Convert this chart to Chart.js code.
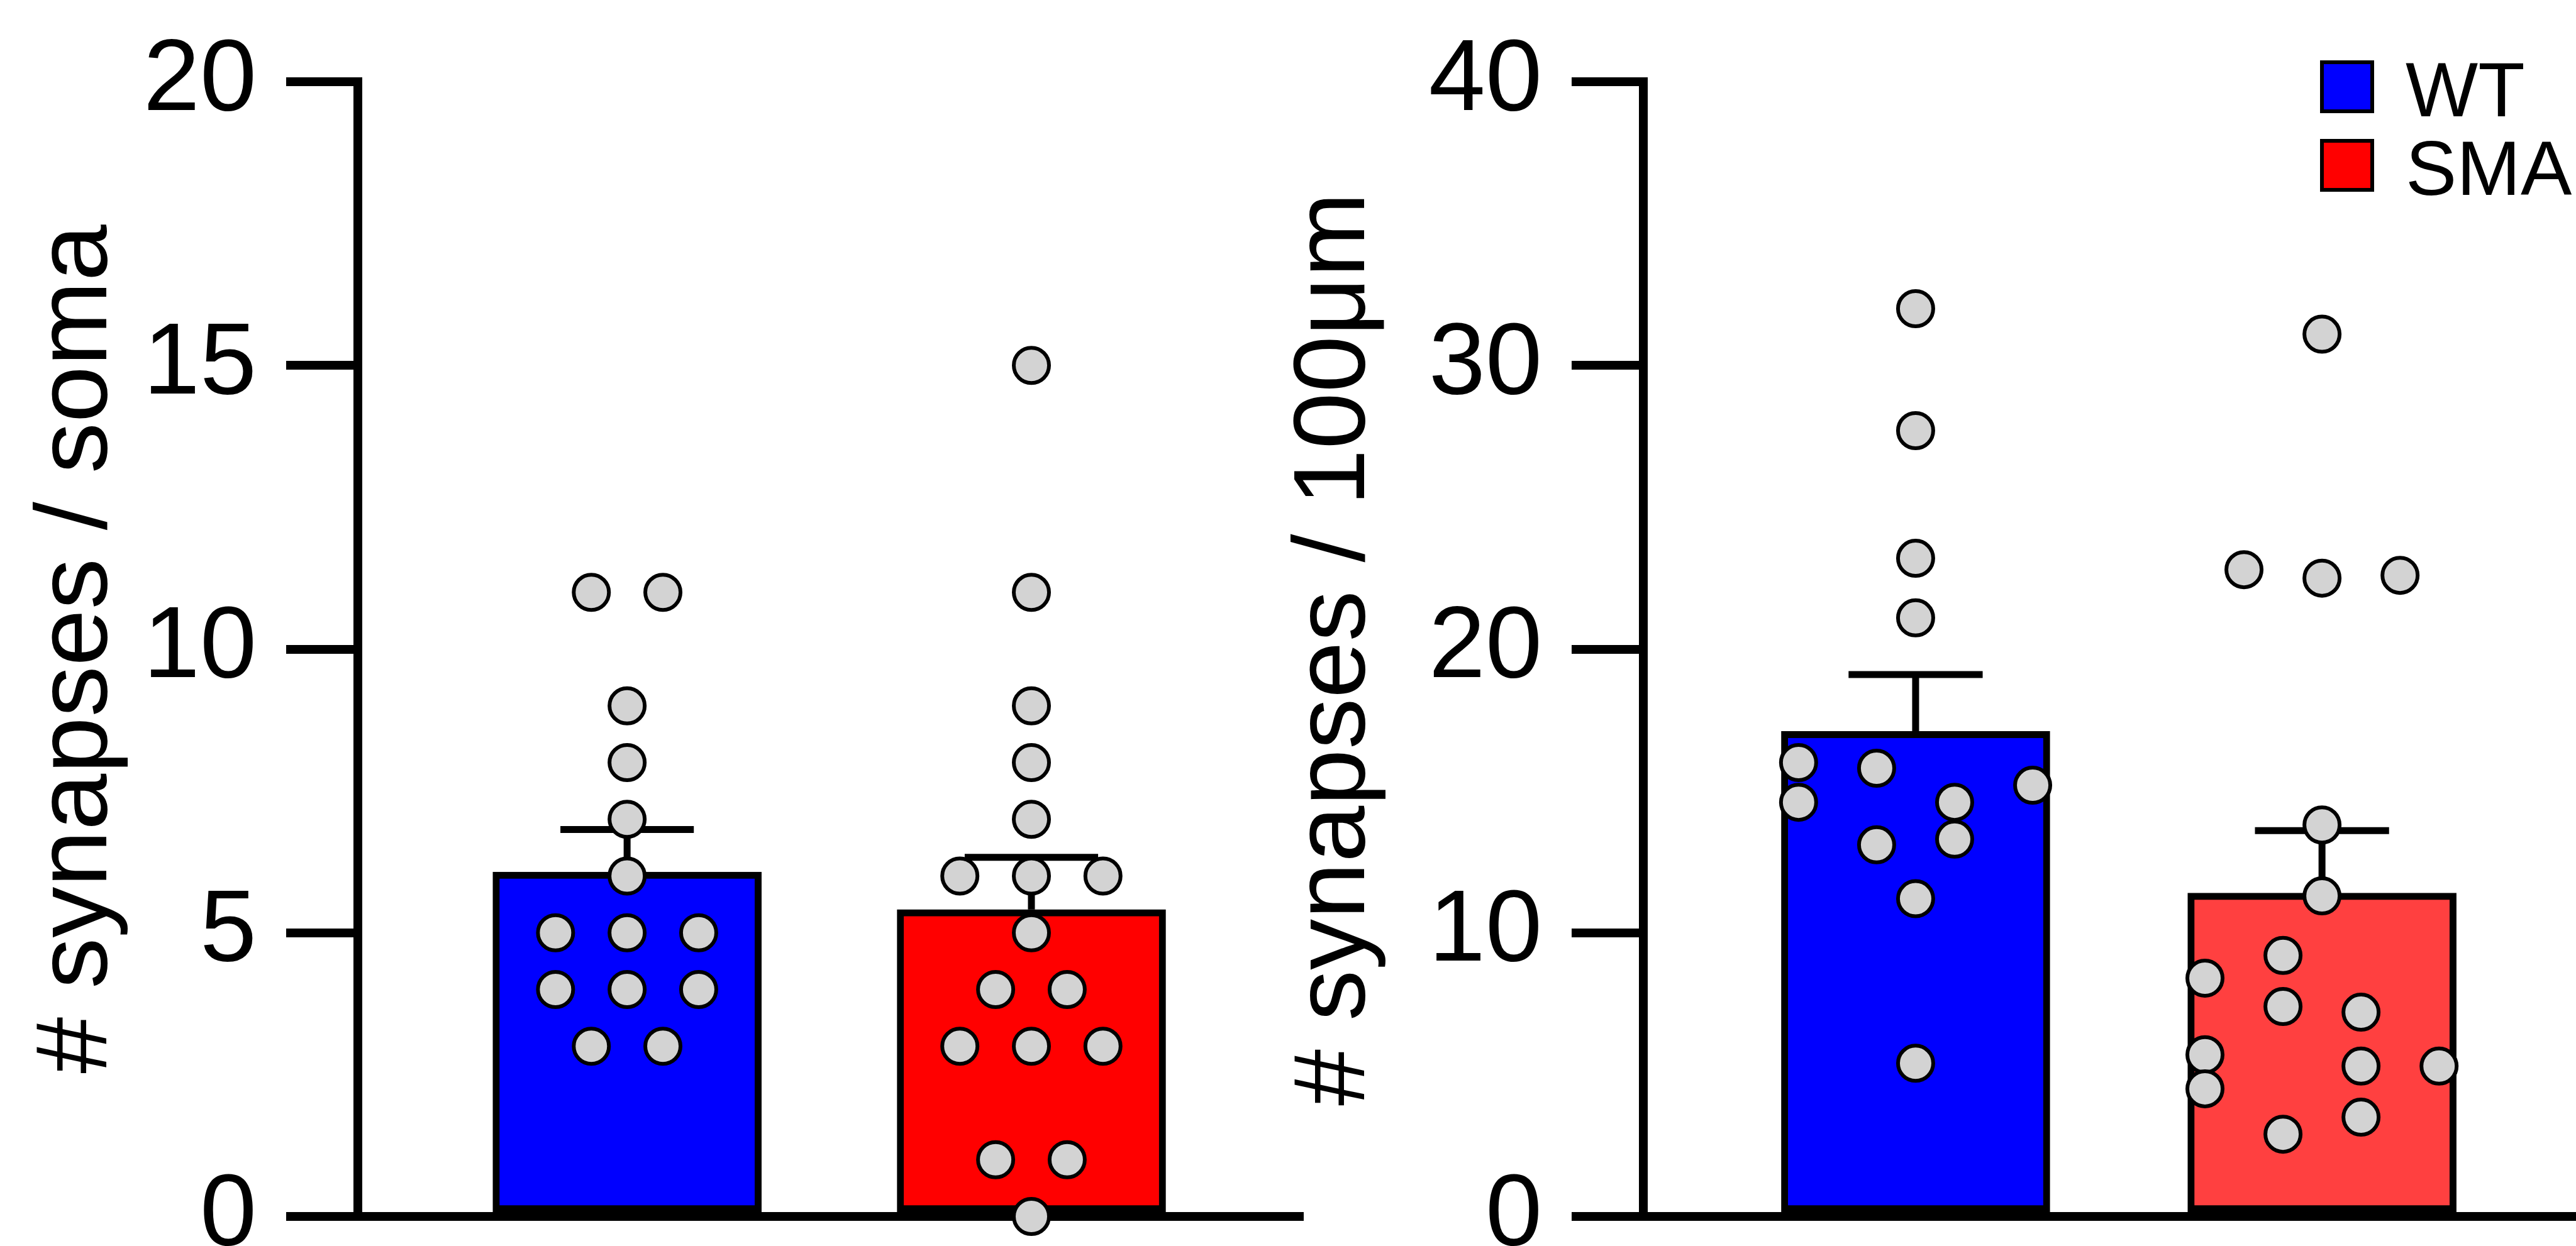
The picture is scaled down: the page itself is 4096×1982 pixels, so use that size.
<!DOCTYPE html>
<html>
<head>
<meta charset="utf-8">
<title>Synapses WT vs SMA</title>
<script src="https://cdn.jsdelivr.net/npm/chart.js@4.4.1/dist/chart.umd.min.js"></script>
<style>
    html, body { margin: 0; padding: 0; background: #fff; overflow: hidden; }
    #wrap { position: relative; width: 4096px; height: 1982px; background: #fff; }
    canvas { position: absolute; top: 0; }
    #somaChart { left: 0; }
    #lengthChart { left: 2000px; }
</style>
</head>
<body>
<div id="wrap">
    <canvas id="somaChart" width="2080" height="1982"></canvas>
    <canvas id="lengthChart" width="2096" height="1982"></canvas>
</div>
<script>
// groups shown in both panels
var groups = ['WT', 'SMA'];

// left panel: synapses per soma
var somaMean = [6.07, 5.41];
var somaSem = [0.75, 0.92];
var somaWT = [11, 11, 9, 8, 7, 6, 5, 5, 5, 4, 4, 4, 3, 3];
var somaWTCol = [-1, 1, 0, 0, 0, 0, -2, 0, 2, -2, 0, 2, -1, 1];
var somaSMA = [15, 11, 9, 8, 7, 6, 6, 6, 5, 4, 4, 3, 3, 3, 1, 1, 0];
var somaSMACol = [0, 0, 0, 0, 0, -2, 0, 2, 0, -1, 1, -2, 0, 2, -1, 1, 0];
var somaTicks = [0, 5, 10, 15, 20];

// right panel: synapses per 100 um
var lenMean = [17.1, 11.4];
var lenSem = [2.0, 2.2];
var lenWT = [32.0, 27.7, 23.2, 21.1, 16.0, 15.8, 15.2, 14.6, 14.6, 13.3, 13.1, 11.2, 5.4];
var lenWTCol = [0, 0, 0, 0, -3, -1, 3, -3, 1, 1, -1, 0, 0];
var lenSMA = [31.1, 22.8, 22.5, 22.6, 13.8, 11.3, 9.2, 8.4, 7.4, 7.2, 5.7, 5.3, 5.3, 4.5, 3.5, 2.9];
var lenSMACol = [0, -2, 0, 2, 0, 0, -1, -3, -1, 1, -3, 1, 3, -3, 1, -1];
var lenTicks = [0, 10, 20, 30, 40];

var FONT = '"Liberation Sans", Arial, Helvetica, sans-serif';

// mean + SEM whiskers, drawn right after the bars so the dots sit on top
var errorBars = {
    id: 'errorBars',
    afterDatasetDraw: function(chart, args, opts) {
        if (args.meta.type !== 'bar') return;
        var xs = chart.scales.x, ys = chart.scales.y, ctx = chart.ctx;
        ctx.save();
        ctx.strokeStyle = '#000';
        ctx.lineWidth = opts.width;
        ctx.lineCap = 'butt';
        for (var i = 0; i < opts.mean.length; i++) {
            var px = xs.getPixelForValue(i);
            var base = ys.getPixelForValue(opts.mean[i]);
            var top = ys.getPixelForValue(opts.mean[i] + opts.sem[i]);
            var half = xs.getPixelForValue(i + opts.cap) - px;
            ctx.beginPath();
            ctx.moveTo(px, base);
            ctx.lineTo(px, top);
            ctx.moveTo(px - half, top);
            ctx.lineTo(px + half, top);
            ctx.stroke();
        }
        ctx.restore();
    }
};

// small boxed legend in the top right corner
var groupLegend = {
    id: 'groupLegend',
    afterDraw: function(chart, args, opts) {
        if (!opts.show) return;
        var ctx = chart.ctx;
        var bx = chart.width - 407, tx = chart.width - 271;
        ctx.save();
        ctx.font = '122px ' + FONT;
        ctx.textBaseline = 'alphabetic';
        ctx.textAlign = 'left';
        for (var i = 0; i < groups.length; i++) {
            var top = 96 + i * 125;
            ctx.fillStyle = opts.colors[i];
            ctx.fillRect(bx, top, 86, 84);
            ctx.strokeStyle = '#000';
            ctx.lineWidth = 6;
            ctx.strokeRect(bx + 3, top + 3, 80, 78);
            ctx.fillStyle = '#000';
            ctx.fillText(groups[i], tx, top + 89);
        }
        ctx.restore();
    }
};

function dotPoints(values, cols, group, step) {
    var pts = [];
    for (var i = 0; i < values.length; i++) {
        pts.push({ x: group + cols[i] * step, y: values[i] });
    }
    return pts;
}

function makePanel(id, p) {
    var points = dotPoints(p.wt, p.wtCol, 0, p.step).concat(dotPoints(p.sma, p.smaCol, 1, p.step));
    return new Chart(document.getElementById(id), {
        type: 'bar',
        data: {
            datasets: [{
                type: 'bar',
                data: [{ x: 0, y: p.mean[0] }, { x: 1, y: p.mean[1] }],
                backgroundColor: p.barColors,
                borderColor: '#000',
                borderWidth: 11,
                borderSkipped: false,
                barThickness: 427,
                order: 2
            }, {
                type: 'scatter',
                data: points,
                pointRadius: 28,
                pointHoverRadius: 28,
                pointBorderWidth: 6,
                pointBackgroundColor: '#d3d3d3',
                pointBorderColor: '#000',
                clip: false,
                order: 1
            }]
        },
        options: {
            responsive: false,
            animation: false,
            devicePixelRatio: 1,
            events: [],
            layout: {
                autoPadding: false,
                padding: { top: 130, bottom: 47, left: 0, right: p.padRight }
            },
            plugins: {
                legend: { display: false },
                tooltip: { enabled: false },
                errorBars: { mean: p.mean, sem: p.sem, cap: 0.165, width: 11 },
                groupLegend: { show: p.legend, colors: ['#0000ff', '#ff0000'] }
            },
            scales: {
                x: {
                    type: 'linear',
                    min: p.xMin,
                    max: p.xMax,
                    offset: false,
                    ticks: { display: false },
                    grid: { display: false, drawTicks: false },
                    border: { display: true, width: 14, color: '#000' },
                    afterFit: function(s) {
                        s.height = 0;
                        s.paddingLeft = 0;
                        s.paddingRight = 0;
                    }
                },
                y: {
                    type: 'linear',
                    min: 0,
                    max: p.yMax,
                    afterBuildTicks: function(s) {
                        s.ticks = p.ticks.map(function(v) { return { value: v }; });
                    },
                    ticks: {
                        color: '#000',
                        padding: 47,
                        font: { family: FONT, size: 162 }
                    },
                    grid: {
                        display: true,
                        drawOnChartArea: false,
                        drawTicks: true,
                        tickLength: 114,
                        lineWidth: 14,
                        tickWidth: 14,
                        tickColor: '#000',
                        color: '#000'
                    },
                    border: { display: true, width: 14, color: '#000' },
                    title: {
                        display: true,
                        text: p.title,
                        color: '#000',
                        font: { family: FONT, size: 162 },
                        padding: { top: 27, bottom: 0 }
                    },
                    afterFit: function(s) {
                        s.width = p.yWidth;
                        s.paddingTop = 0;
                        s.paddingBottom = 0;
                    }
                }
            }
        },
        plugins: [errorBars, groupLegend]
    });
}

document.addEventListener('DOMContentLoaded', function() {
    makePanel('somaChart', {
        mean: somaMean, sem: somaSem,
        wt: somaWT, wtCol: somaWTCol, sma: somaSMA, smaCol: somaSMACol,
        ticks: somaTicks, yMax: 20, title: '# synapses / soma',
        xMin: -0.666, xMax: 1.672, yWidth: 569, padRight: 8,
        step: 0.0885,
        barColors: ['#0000ff', '#ff0000'], legend: false
    });
    makePanel('lengthChart', {
        mean: lenMean, sem: lenSem,
        wt: lenWT, wtCol: lenWTCol, sma: lenSMA, smaCol: lenSMACol,
        ticks: lenTicks, yMax: 40, title: '# synapses / 100μm',
        xMin: -0.670, xMax: 1.625, yWidth: 613, padRight: 0,
        step: 0.096,
        barColors: ['#0000ff', '#ff4040'], legend: true
    });
});
</script>
</body>
</html>
